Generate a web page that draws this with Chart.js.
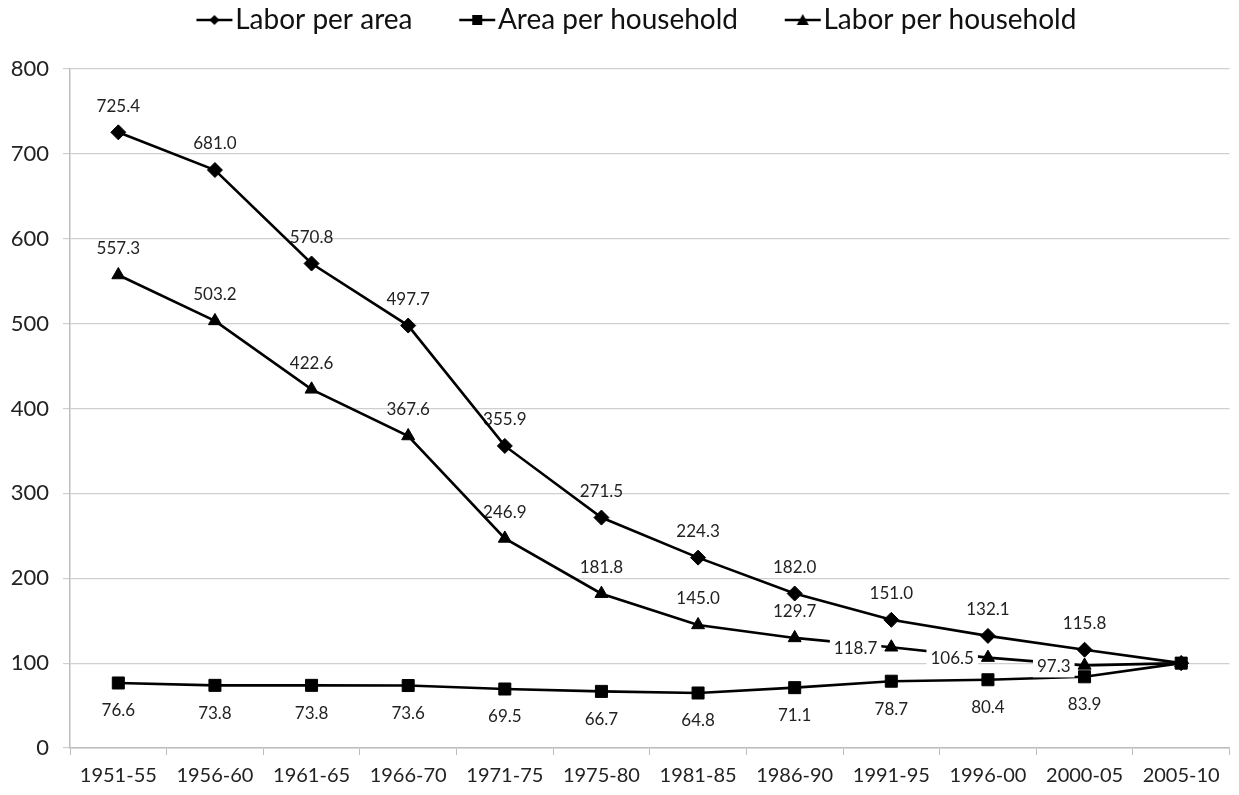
<!DOCTYPE html>
<html>
<head>
<meta charset="utf-8">
<script src="https://cdn.jsdelivr.net/npm/chart.js@4/dist/chart.umd.min.js"></script>
<style>
  html, body { margin: 0; padding: 0; background: #fff; }
  #wrap { width: 1239px; height: 795px; }
</style>
</head>
<body>
<div id="wrap"><canvas id="chart" width="1239" height="795"></canvas></div>
<script>
const periods = ['1951-55', '1956-60', '1961-65', '1966-70', '1971-75', '1975-80',
  '1981-85', '1986-90', '1991-95', '1996-00', '2000-05', '2005-10'];
const laborPerArea = [725.4, 681.0, 570.8, 497.7, 355.9, 271.5, 224.3, 182.0, 151.0, 132.1, 115.8, 100];
const areaPerHousehold = [76.6, 73.8, 73.8, 73.6, 69.5, 66.7, 64.8, 71.1, 78.7, 80.4, 83.9, 100];
const laborPerHousehold = [557.3, 503.2, 422.6, 367.6, 246.9, 181.8, 145.0, 129.7, 118.7, 106.5, 97.3, 100];
const yTicks = [0, 100, 200, 300, 400, 500, 600, 700, 800];

const FONT = 'Lato, "Open Sans", sans-serif';

// where each data label sits relative to its point ('above', 'below', 'left', or none)
const labelPos = {
  0: ['above', 'above', 'above', 'above', 'above', 'above', 'above', 'above', 'above', 'above', 'above', null],
  1: ['below', 'below', 'below', 'below', 'below', 'below', 'below', 'below', 'below', 'below', 'below', null],
  2: ['above', 'above', 'above', 'above', 'above', 'above', 'above', 'above', 'left', 'left', 'left', null]
};

// legend icons: transparent lead-in on the left, then a line with the marker
function legendIcon(style) {
  const c = document.createElement('canvas');
  c.width = 90; c.height = 18;
  const g = c.getContext('2d');
  const x0 = 53, x1 = 89, mx = 71, my = 9;
  g.strokeStyle = '#000'; g.fillStyle = '#000'; g.lineWidth = 2.5;
  g.beginPath(); g.moveTo(x0, my); g.lineTo(x1, my); g.stroke();
  g.beginPath();
  if (style === 'rectRot') {
    g.moveTo(mx, my - 5); g.lineTo(mx + 5, my); g.lineTo(mx, my + 5); g.lineTo(mx - 5, my);
  } else if (style === 'rect') {
    g.rect(mx - 5, my - 5, 10, 10);
  } else {
    g.moveTo(mx, my - 6); g.lineTo(mx + 6, my + 5); g.lineTo(mx - 6, my + 5);
  }
  g.closePath(); g.fill();
  return c;
}
const icons = [legendIcon('rectRot'), legendIcon('rect'), legendIcon('triangle')];

// leave room between the legend and the plot
const legendGap = {
  id: 'legendGap',
  beforeUpdate(chart) {
    const lg = chart.legend;
    if (lg && !lg._gapPatched) {
      const fit = lg.fit.bind(lg);
      lg.fit = function () { fit(); this.height += 25; };
      lg._gapPatched = true;
    }
  }
};

function drawLabels(chart, boxed) {
  const ctx = chart.ctx;
  ctx.save();
  ctx.font = '17px ' + FONT;
  ctx.textAlign = 'center';
  ctx.textBaseline = 'middle';
  chart.data.datasets.forEach((ds, di) => {
    const meta = chart.getDatasetMeta(di);
    meta.data.forEach((pt, i) => {
      const pos = labelPos[di][i];
      if (!pos || (pos === 'left') !== boxed) return;
      const txt = ds.data[i].toFixed(1);
      const w = ctx.measureText(txt).width;
      let x = pt.x, y = pt.y;
      if (pos === 'above') { y -= 26; }
      else if (pos === 'below') { y += 28; }
      else { x -= 14 + w / 2; y += 1; }
      if (boxed) {
        ctx.fillStyle = '#fff';
        ctx.fillRect(x - w / 2 - 4, y - 11, w + 8, 22);
      }
      ctx.fillStyle = '#222';
      ctx.fillText(txt, x, y);
    });
  });
  ctx.restore();
}

// plain labels sit under the lines, boxed ones (left of the point) cover them
const dataLabels = {
  id: 'dataLabels',
  beforeDatasetsDraw(chart) { drawLabels(chart, false); },
  afterDatasetsDraw(chart) { drawLabels(chart, true); }
};

function series(label, data, style, radius, order) {
  return {
    label: label,
    data: data,
    order: order,
    borderColor: '#000',
    backgroundColor: '#000',
    borderWidth: 2.6,
    pointStyle: style,
    pointRadius: radius,
    pointHoverRadius: radius,
    pointBackgroundColor: '#000',
    pointBorderColor: '#000',
    pointBorderWidth: 1,
    tension: 0,
    fill: false
  };
}

new Chart(document.getElementById('chart').getContext('2d'), {
  type: 'line',
  data: {
    labels: periods,
    datasets: [
      series('Labor per area', laborPerArea, 'rectRot', 7.5, 1),
      series('Area per household', areaPerHousehold, 'rect', 8.5, 0),
      series('Labor per household', laborPerHousehold, 'triangle', 7.5, 2)
    ]
  },
  options: {
    responsive: false,
    animation: false,
    layout: { padding: { left: 0, right: 7, top: 0, bottom: 0 } },
    plugins: {
      tooltip: { enabled: false },
      legend: {
        position: 'top',
        labels: {
          usePointStyle: true,
          pointStyleWidth: 65.5,
          boxHeight: 18,
          padding: 6,
          color: '#111',
          font: { family: FONT, size: 28 },
          generateLabels(chart) {
            return chart.data.datasets.map((ds, i) => ({
              text: ds.label,
              pointStyle: icons[i],
              fillStyle: '#000',
              strokeStyle: '#000',
              lineWidth: 0,
              hidden: false,
              datasetIndex: i,
              fontColor: '#111'
            }));
          }
        }
      }
    },
    scales: {
      x: {
        offset: true,
        grid: { display: true, offset: true, drawOnChartArea: false, drawTicks: true, tickLength: 7, color: '#bdbdbd' },
        border: { color: '#bdbdbd', width: 1.5 },
        ticks: { color: '#222', font: { family: FONT, size: 20 }, maxRotation: 0, autoSkip: false, padding: 9 },
        afterFit(scale) { scale.height = 47; }
      },
      y: {
        min: 0,
        max: 800,
        afterBuildTicks(scale) { scale.ticks = yTicks.map(v => ({ value: v })); },
        grid: { color: '#cfcfcf', lineWidth: 1.2, drawTicks: true, tickLength: 7 },
        border: { color: '#bdbdbd', width: 1.5 },
        ticks: { color: '#222', font: { family: FONT, size: 22 }, padding: 14 },
        afterFit(scale) { scale.width = 70; }
      }
    }
  },
  plugins: [legendGap, dataLabels]
});
</script>
</body>
</html>
